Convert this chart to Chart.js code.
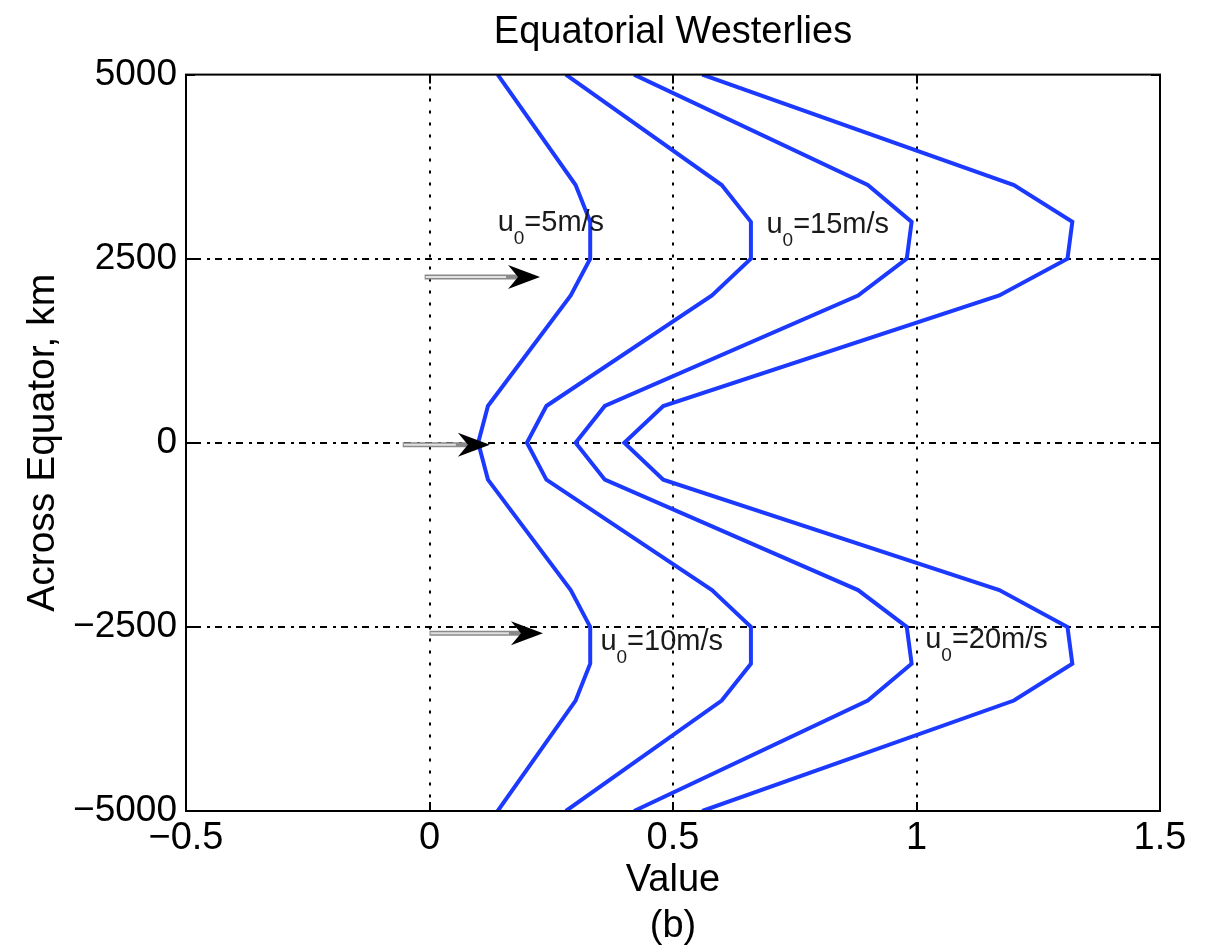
<!DOCTYPE html>
<html>
<head>
<meta charset="utf-8">
<script src="https://cdn.jsdelivr.net/npm/chart.js@4.4.0/dist/chart.umd.min.js"></script>
<style>
  html, body { margin: 0; padding: 0; background: #fff; }
  #wrap { width: 1211px; height: 950px; }
</style>
</head>
<body>
<div id="wrap"><canvas id="chart" width="1211" height="950"></canvas></div>
<script>
// distance across the equator (km), same for every curve
var yKm = [5000, 3500, 3000, 2500, 2000, 500, 0, -500, -2000, -2500, -3000, -3500, -5000];

// profile values for each u0
var u5  = [0.14, 0.30, 0.33, 0.33, 0.29, 0.12, 0.10, 0.12, 0.29, 0.33, 0.33, 0.30, 0.14];
var u10 = [0.28, 0.60, 0.66, 0.66, 0.58, 0.24, 0.20, 0.24, 0.58, 0.66, 0.66, 0.60, 0.28];
var u15 = [0.42, 0.90, 0.99, 0.98, 0.88, 0.36, 0.30, 0.36, 0.88, 0.98, 0.99, 0.90, 0.42];
var u20 = [0.56, 1.20, 1.32, 1.31, 1.17, 0.48, 0.40, 0.48, 1.17, 1.31, 1.32, 1.20, 0.56];

var seriesNames = ["u0=5m/s", "u0=10m/s", "u0=15m/s", "u0=20m/s"];

// curve labels (u with subscript 0, then the speed)
var labelSpeed = ["=5m/s", "=15m/s", "=10m/s", "=20m/s"];
var labelX = [0.144, 0.696, 0.355, 1.022];
var labelY = [2875, 2853, -2808, -2785];

// the three arrows
var arrowFrom = [-0.01, -0.055, 0.0];
var arrowTo = [0.227, 0.124, 0.233];
var arrowY = [2250, -27, -2585];

var FONT = '"Liberation Sans", Arial, Helvetica, sans-serif';

function toPoints(xs) {
  return xs.map(function (v, i) { return { x: v, y: yKm[i] }; });
}

function fmt(v) {
  return v < 0 ? "\u2212" + String(-v) : String(v);
}

// grid, frame, inward ticks, arrows and labels
var decor = {
  id: "decor",
  beforeDatasetsDraw: function (chart) {
    var ctx = chart.ctx, a = chart.chartArea;
    var xs = chart.scales.x, ys = chart.scales.y;
    ctx.save();
    ctx.strokeStyle = "#000";
    ctx.lineWidth = 2;
    ctx.setLineDash([3, 9]);
    xs.ticks.forEach(function (t) {
      if (t.value <= xs.min || t.value >= xs.max) return;
      var px = Math.round(xs.getPixelForValue(t.value));
      ctx.beginPath(); ctx.moveTo(px, a.top); ctx.lineTo(px, a.bottom); ctx.stroke();
    });
    ctx.setLineDash([3, 5, 7, 6]);
    ys.ticks.forEach(function (t) {
      if (t.value <= ys.min || t.value >= ys.max) return;
      var py = Math.round(ys.getPixelForValue(t.value));
      ctx.beginPath(); ctx.moveTo(a.left, py); ctx.lineTo(a.right, py); ctx.stroke();
    });
    ctx.restore();
  },
  afterDatasetsDraw: function (chart) {
    var ctx = chart.ctx, a = chart.chartArea;
    var xs = chart.scales.x, ys = chart.scales.y;
    ctx.save();
    ctx.strokeStyle = "#000";
    ctx.lineWidth = 2;
    ctx.setLineDash([]);
    ctx.strokeRect(a.left, a.top, a.right - a.left, a.bottom - a.top);
    var tl = 9;
    xs.ticks.forEach(function (t) {
      var px = Math.round(xs.getPixelForValue(t.value));
      ctx.beginPath();
      ctx.moveTo(px, a.bottom); ctx.lineTo(px, a.bottom - tl);
      ctx.moveTo(px, a.top); ctx.lineTo(px, a.top + tl);
      ctx.stroke();
    });
    ys.ticks.forEach(function (t) {
      var py = Math.round(ys.getPixelForValue(t.value));
      ctx.beginPath();
      ctx.moveTo(a.left, py); ctx.lineTo(a.left + tl, py);
      ctx.moveTo(a.right, py); ctx.lineTo(a.right - tl, py);
      ctx.stroke();
    });

    // arrows: grey shaft, black swept head
    for (var i = 0; i < arrowY.length; i++) {
      var x1 = xs.getPixelForValue(arrowFrom[i]);
      var x2 = xs.getPixelForValue(arrowTo[i]);
      var y = ys.getPixelForValue(arrowY[i]);
      ctx.lineCap = "butt";
      ctx.strokeStyle = "#8a8a8a";
      ctx.lineWidth = 5;
      ctx.beginPath(); ctx.moveTo(x1, y); ctx.lineTo(x2 - 20, y); ctx.stroke();
      ctx.strokeStyle = "#e2e2e2";
      ctx.lineWidth = 2;
      ctx.beginPath(); ctx.moveTo(x1 + 1, y); ctx.lineTo(x2 - 34, y); ctx.stroke();
      ctx.fillStyle = "#000";
      ctx.beginPath();
      ctx.moveTo(x2, y);
      ctx.lineTo(x2 - 32, y - 12);
      ctx.lineTo(x2 - 22, y);
      ctx.lineTo(x2 - 32, y + 12);
      ctx.closePath();
      ctx.fill();
    }

    // curve labels
    ctx.fillStyle = "#1a1a1a";
    ctx.textAlign = "left";
    ctx.textBaseline = "alphabetic";
    for (var j = 0; j < labelSpeed.length; j++) {
      var lx = xs.getPixelForValue(labelX[j]) - 2;
      var ly = ys.getPixelForValue(labelY[j]);
      ctx.font = "29px " + FONT;
      ctx.fillText("u", lx, ly);
      var wu = ctx.measureText("u").width;
      ctx.font = "19px " + FONT;
      ctx.fillText("0", lx + wu, ly + 13);
      var w0 = ctx.measureText("0").width;
      ctx.font = "29px " + FONT;
      ctx.fillText(labelSpeed[j], lx + wu + w0, ly);
    }
    ctx.restore();
  }
};

var blue = "rgb(28, 58, 255)";

new Chart(document.getElementById("chart"), {
  type: "scatter",
  data: {
    datasets: [u5, u10, u15, u20].map(function (vals, k) {
      return {
        label: seriesNames[k],
        data: toPoints(vals),
        showLine: true,
        borderColor: blue,
        backgroundColor: blue,
        borderWidth: 4,
        pointRadius: 0,
        tension: 0,
        fill: false
      };
    })
  },
  options: {
    responsive: false,
    devicePixelRatio: 1,
    animation: false,
    layout: { padding: { left: 0, right: 51, top: 0, bottom: 0 } },
    plugins: {
      legend: { display: false },
      tooltip: { enabled: false },
      title: {
        display: true,
        fullSize: false,
        text: "Equatorial Westerlies",
        color: "#000",
        font: { family: FONT, size: 38, weight: "normal" },
        padding: { top: 10, bottom: 19 }
      },
      subtitle: {
        display: true,
        fullSize: false,
        position: "bottom",
        text: "(b)",
        color: "#000",
        font: { family: FONT, size: 38, weight: "normal" },
        padding: { top: 0, bottom: 1 }
      }
    },
    scales: {
      x: {
        type: "linear",
        min: -0.5,
        max: 1.5,
        grid: { display: false },
        border: { display: false },
        ticks: {
          stepSize: 0.5,
          padding: -3,
          color: "#000",
          font: { family: FONT, size: 38 },
          callback: function (v) { return fmt(v); }
        },
        title: {
          display: true,
          text: "Value",
          color: "#000",
          font: { family: FONT, size: 38 },
          padding: { top: 0, bottom: 0 }
        },
        afterFit: function (s) { s.height = 92.4; }
      },
      y: {
        type: "linear",
        min: -5000,
        max: 5000,
        grid: { display: false },
        border: { display: false },
        ticks: {
          stepSize: 2500,
          padding: 1,
          color: "#000",
          font: { family: FONT, size: 37 },
          callback: function (v) { return fmt(v); }
        },
        title: {
          display: true,
          text: "Across Equator, km",
          color: "#000",
          font: { family: FONT, size: 39 },
          padding: { top: 20, bottom: 0 }
        },
        afterFit: function (s) { s.width = 186; }
      }
    }
  },
  plugins: [decor]
});
</script>
</body>
</html>
